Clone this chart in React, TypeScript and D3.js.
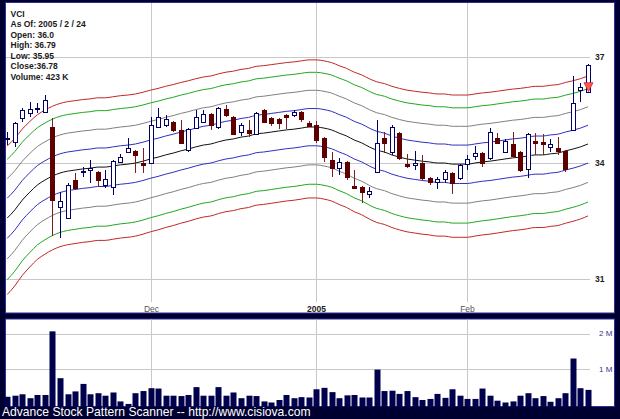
import React from 'react';
import * as d3 from 'd3';

// ---- data ----
const infoLines = ['VCI', 'As Of: 2005 / 2 / 24', 'Open: 36.0', 'High: 36.79', 'Low: 35.95', 'Close:36.78', 'Volume: 423 K'];

const openP = [34.68, 34.59, 35.25, 35.39, 35.52, 35.42, 35.00, 32.84, 32.55, 33.55,
  33.79, 33.82, 33.77, 33.42, 33.37, 34.04, 34.31, 34.34, 34.01, 34.01,
  35.00, 35.06, 35.14, 34.92, 34.36, 34.97, 35.14, 35.37, 35.00, 35.51,
  35.28, 34.86, 34.92, 34.81, 35.48, 35.25, 35.23, 35.34, 35.34, 35.42,
  35.11, 35.06, 34.70, 34.09, 33.87, 34.04, 33.39, 33.37, 33.18, 33.77,
  34.70, 34.31, 34.83, 33.98, 33.95, 34.01, 33.61, 33.50, 33.58, 33.74,
  33.61, 33.98, 34.20, 34.28, 34.15, 34.70, 34.31, 34.53, 34.31, 33.85,
  34.61, 34.59, 34.45, 34.42, 34.34, 34.92, 36.05, 36.00];
const highP = [34.86, 35.14, 35.53, 35.70, 35.67, 35.90, 35.25, 33.23, 33.47, 33.74,
  33.90, 34.09, 33.79, 33.82, 34.09, 34.26, 34.70, 34.36, 34.42, 35.28,
  35.53, 35.34, 35.17, 35.19, 34.97, 35.47, 35.48, 35.39, 35.56, 35.62,
  35.31, 35.11, 35.20, 35.42, 35.51, 35.28, 35.25, 35.37, 35.48, 35.45,
  35.17, 35.17, 34.72, 34.31, 34.15, 34.06, 33.82, 33.39, 33.37, 35.20,
  34.86, 35.06, 34.86, 34.26, 34.34, 34.23, 33.63, 33.63, 33.82, 33.77,
  33.98, 34.23, 34.48, 34.31, 34.97, 34.83, 34.67, 34.86, 34.34, 34.83,
  34.83, 34.81, 34.67, 34.72, 34.36, 36.46, 36.26, 36.79];
const lowP = [34.50, 34.45, 35.14, 35.28, 35.39, 35.39, 32.08, 32.05, 32.52, 33.29,
  33.63, 33.47, 33.37, 33.34, 33.15, 34.01, 34.28, 33.74, 33.74, 33.98,
  34.97, 35.00, 34.86, 34.53, 34.31, 34.94, 35.11, 34.92, 34.94, 35.28,
  34.78, 34.75, 34.72, 34.78, 35.11, 35.03, 34.94, 34.94, 35.28, 35.14,
  35.00, 34.56, 34.04, 33.63, 33.68, 33.55, 33.31, 32.94, 33.07, 33.74,
  34.28, 34.23, 34.09, 33.87, 33.82, 33.55, 33.42, 33.31, 33.47, 33.18,
  33.55, 33.82, 34.09, 33.90, 34.09, 34.53, 34.28, 34.17, 33.77, 33.61,
  34.23, 34.23, 34.31, 34.23, 33.77, 34.89, 35.70, 35.95];
const closeP = [34.70, 35.11, 35.47, 35.50, 35.53, 35.76, 33.02, 32.99, 33.42, 33.34,
  33.80, 33.87, 33.55, 33.58, 34.06, 34.17, 34.42, 34.23, 33.96, 35.06,
  35.28, 35.22, 34.92, 34.56, 34.94, 35.28, 35.37, 35.06, 35.53, 35.34,
  34.81, 35.06, 34.83, 35.39, 35.14, 35.11, 35.11, 35.28, 35.42, 35.23,
  35.03, 34.64, 34.17, 33.87, 34.04, 33.63, 33.34, 33.23, 33.26, 34.56,
  34.56, 35.00, 34.15, 33.93, 34.01, 33.61, 33.50, 33.58, 33.77, 33.47,
  33.95, 34.12, 34.28, 34.01, 34.86, 34.56, 34.61, 34.20, 33.82, 34.81,
  34.56, 34.53, 34.53, 34.34, 33.85, 35.68, 36.14, 36.78];

// daily volume, thousands of shares
const volumeK = [230, 260, 300, 190, 280, 280, 2060, 750, 300, 380,
  590, 300, 330, 260, 350, 100, 30, 330, 390, 470,
  460, 260, 260, 250, 280, 500, 260, 260, 500, 260,
  350, 190, 260, 250, 100, 70, 140, 280, 190, 220,
  210, 440, 480, 360, 190, 270, 280, 210, 210, 990,
  390, 400, 310, 390, 220, 140, 170, 310, 200, 440,
  260, 170, 170, 460, 260, 120, 70, 100, 260, 330,
  190, 250, 90, 190, 330, 1300, 470, 423];

// channel middle line (price) and channel step
const bandCenter = [32.55, 32.76, 33.02, 33.23, 33.42, 33.55, 33.66, 33.74, 33.79, 33.82,
  33.85, 33.87, 33.90, 33.90, 33.93, 33.96, 33.98, 34.01, 34.06, 34.12,
  34.17, 34.23, 34.28, 34.34, 34.39, 34.45, 34.50, 34.53, 34.59, 34.64,
  34.67, 34.72, 34.75, 34.81, 34.83, 34.86, 34.89, 34.92, 34.94, 34.97,
  35.00, 35.00, 34.97, 34.92, 34.83, 34.75, 34.64, 34.56, 34.45, 34.36,
  34.31, 34.23, 34.17, 34.12, 34.09, 34.06, 34.04, 34.01, 34.01, 33.98,
  33.98, 33.98, 34.01, 34.04, 34.06, 34.09, 34.12, 34.15, 34.17, 34.20,
  34.23, 34.23, 34.26, 34.28, 34.34, 34.39, 34.45, 34.53];
const bandStep = 0.52;
const bandMultipliers = [1, 2, 3, 3.7];

const priceTicks = [31, 34, 37];
const volumeTicks = [1000, 2000];
const volumeTickLabels = ['1 M', '2 M'];
const xTickIndex = [19, 41, 61];
const xTickLabels = ['Dec', '2005', 'Feb'];
const signalMarker = { index: 77, price: 36.0 };
const footer = 'Advance Stock Pattern Scanner -- http://www.cisiova.com';

// ---- styles ----
const BG = '#000030';
const PANEL_EDGE = '#2d2d9a';
const GRID = '#c8c8c8';
const bandColors = ['#2f2fc0', '#808080', '#20a820', '#c02828'];
const UP_STROKE = '#000066';
const DOWN_FILL = '#5e0000';
const DOWN_WICK = '#7a2020';
const FONT = '"Liberation Sans", Arial, sans-serif';

export default function App() {
  const n = closeP.length;
  const mainTop = 2, mainBottom = 313.5, volTop = 318.5, volBottom = 407;
  const left = 5, right = 615, gridRight = 590;

  const x = d3.scaleLinear().domain([0, n - 1]).range([7.2, 588]);
  const y = d3.scaleLog().domain([31, 37]).range([279.3, 57.3]);
  const yv = d3.scaleLinear().domain([0, 2000]).range([405, 333.5]);

  const idx = d3.range(n);
  const line = (vals: number[]) =>
    d3.line<number>().x((i) => x(i)).y((i) => y(vals[i])).curve(d3.curveMonotoneX)(idx) || '';

  const bandPaths: { d: string; color: string }[] = [];
  bandMultipliers.forEach((k, j) => {
    const up = bandCenter.map((c) => c + k * bandStep);
    const dn = bandCenter.map((c) => c - k * bandStep);
    bandPaths.push({ d: line(up), color: bandColors[j] });
    bandPaths.push({ d: line(dn), color: bandColors[j] });
  });

  const px = (i: number) => Math.round(x(i)) + 0.5;
  const r = (v: number) => Math.round(v) + 0.5;

  const mk = signalMarker;
  const mx = px(mk.index);
  const my = y(mk.price);

  return (
    <svg width={620} height={419} style={{ position: 'absolute', left: 0, top: 0, display: 'block' }}
      fontFamily={FONT}>
      <rect x={0} y={0} width={620} height={419} fill={BG} />
      <rect x={left + 0.5} y={mainTop + 0.5} width={right - left - 1} height={mainBottom - mainTop - 1}
        fill="#fff" stroke={PANEL_EDGE} />
      <rect x={left + 0.5} y={volTop + 0.5} width={right - left - 1} height={volBottom - volTop - 1}
        fill="#fff" stroke={PANEL_EDGE} />

      {/* grid */}
      {priceTicks.map((t) => (
        <line key={'pg' + t} x1={left + 1} x2={gridRight} y1={r(y(t))} y2={r(y(t))} stroke={GRID} />
      ))}
      {xTickIndex.map((i) => (
        <line key={'vg' + i} x1={px(i)} x2={px(i)} y1={mainTop + 1} y2={302} stroke={GRID} />
      ))}
      {volumeTicks.map((t) => (
        <line key={'vgl' + t} x1={left + 1} x2={gridRight} y1={r(yv(t))} y2={r(yv(t))} stroke={GRID} />
      ))}
      {xTickIndex.map((i) => (
        <line key={'vvg' + i} x1={px(i)} x2={px(i)} y1={volTop + 1} y2={volBottom - 1} stroke={GRID} />
      ))}

      {/* bands */}
      {bandPaths.map((b, k) => (
        <path key={'b' + k} d={b.d} fill="none" stroke={b.color} strokeWidth={1} />
      ))}
      <path d={line(bandCenter)} fill="none" stroke="#111" strokeWidth={1} />

      {/* candles */}
      {idx.map((i) => {
        const o = openP[i], c = closeP[i], h = highP[i], l = lowP[i];
        const upC = c >= o;
        const cx = px(i);
        const top = Math.round(y(Math.max(o, c)));
        const bot = Math.round(y(Math.min(o, c)));
        const hgt = Math.max(1, bot - top);
        return (
          <g key={'c' + i}>
            <line x1={cx} x2={cx} y1={Math.round(y(h))} y2={Math.round(y(l))}
              stroke={upC ? UP_STROKE : DOWN_WICK} />
            <rect x={cx - 2} y={top + 0.5} width={4} height={hgt}
              fill={upC ? '#fff' : DOWN_FILL} stroke={upC ? UP_STROKE : DOWN_FILL} />
          </g>
        );
      })}

      {/* signal marker */}
      <path d={`M${mx - 4.5},${my - 9}L${mx + 4.5},${my - 9}L${mx},${my}Z`}
        fill="#ff5a5a" stroke="#c83030" strokeWidth={0.8} />

      {/* volume bars */}
      {volumeK.map((v, i) => (
        <rect key={'v' + i} x={Math.round(x(i)) - 2.5} y={yv(v)} width={6} height={volBottom - yv(v)}
          fill="#00004d" />
      ))}

      {/* labels */}
      {priceTicks.map((t) => (
        <text key={'pl' + t} x={595} y={y(t)} dy="0.35em" fontSize={8.5} fontWeight="bold" fill="#222">{t}</text>
      ))}
      {volumeTicks.map((t, k) => (
        <text key={'vl' + t} x={599} y={yv(t)} dy="0.35em" fontSize={8} fill="#33338a">{volumeTickLabels[k]}</text>
      ))}
      {xTickIndex.map((i, k) => (
        <text key={'xl' + i} x={px(i)} y={312} textAnchor="middle" fontSize={8.5}
          fontWeight={xTickLabels[k] === '2005' ? 'bold' : 'normal'}
          fill={xTickLabels[k] === '2005' ? '#222' : '#555'}>{xTickLabels[k]}</text>
      ))}
      {infoLines.map((s, k) => (
        <text key={'i' + k} x={10.5} y={16.7 + k * 10.55} fontSize={8.5} fontWeight="bold" fill="#1a1a1a">{s}</text>
      ))}
      <text x={2} y={416.3} fontSize={12.1} fill="#fff">{footer}</text>
    </svg>
  );
}
